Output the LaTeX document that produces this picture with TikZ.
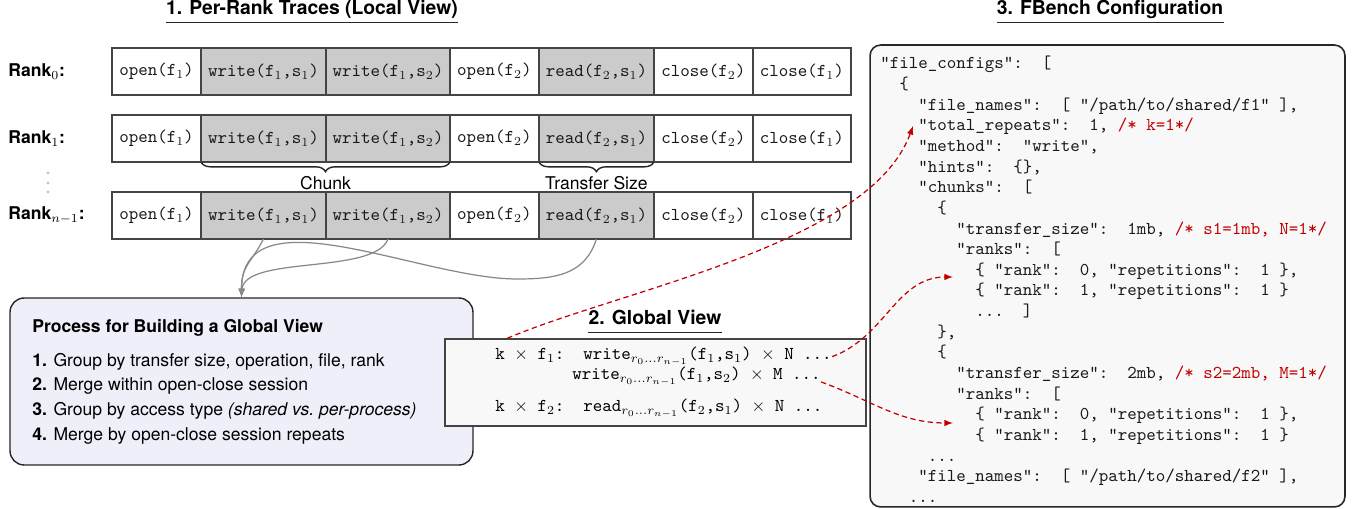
\documentclass[tikz,border=0pt]{standalone}
\usepackage{fontspec}
\setsansfont{TeX Gyre Heros}
\usetikzlibrary{positioning,decorations.pathreplacing}

\definecolor{cellgray}{HTML}{CBCBCB}
\definecolor{cellline}{HTML}{444444}
\definecolor{procfill}{HTML}{EFEFFA}
\definecolor{codefill}{HTML}{F8F8F8}
\definecolor{codered}{HTML}{C00000}
\definecolor{curvegray}{HTML}{888888}

\newcommand{\codefont}{\ttfamily\fontsize{10.3}{11.75}\selectfont\frenchspacing}
\newcommand{\redc}[1]{\textcolor{codered}{#1}}
\newcommand{\rsub}{$_{r_0\ldots r_{n-1}}$}

\begin{document}
\begin{tikzpicture}[x=0.02cm,y=-0.02cm,
  cell/.style={draw=cellline,line width=0.8pt,fill=white,minimum width=#1,
    minimum height=0.94cm,inner sep=0pt,outer sep=0pt,text=black!90,font=\codefont},
  op cell/.style={cell=#1,fill=cellgray},
  rank label/.style={anchor=west,inner sep=0pt,font=\sffamily\bfseries\fontsize{10}{12}\selectfont},
  title/.style={anchor=base,inner sep=0pt,text depth=0.25em,font=\sffamily\bfseries\fontsize{11}{13}\selectfont},
  title rule/.style={line width=0.7pt,draw=black!85},
  brace/.style={decorate,decoration={brace,mirror,amplitude=5.5pt},line width=0.8pt,draw=black!85},
  brace label/.style={below=7pt,inner sep=1pt,font=\sffamily\fontsize{10}{12}\selectfont},
  proc text/.style={anchor=base west,inner sep=0pt,font=\sffamily\fontsize{10}{12}\selectfont},
  gv text/.style={anchor=base west,inner sep=0pt,font=\codefont},
  flow/.style={draw=curvegray,line width=0.7pt,-latex},
  map/.style={draw=codered,line width=0.7pt,dash pattern=on 3pt off 2pt,-latex}]

  \useasboundingbox (0,0) rectangle (1352,509);

  % titles
  \node[title] (t1) at (312,15) {1. Per-Rank Traces (Local View)};
  \draw[title rule] ([yshift=-1.5pt]t1.south west) -- ([yshift=-1.5pt]t1.south east);
  \node[title] (t2) at (655,325) {2. Global View};
  \draw[title rule] ([yshift=-1.5pt]t2.south west) -- ([yshift=-1.5pt]t2.south east);
  \node[title] (t3) at (1110,15) {3. FBench Configuration};
  \draw[title rule] ([yshift=-1.5pt]t3.south west) -- ([yshift=-1.5pt]t3.south east);

  % rank 0
  \node[rank label] (l0) at (8,71.5) {Rank$_0$:};
  \node[cell=1.78cm] (a1) at (156.5,71.5) {open(f$_1$)};
  \node[op cell=2.5cm,right=0pt of a1] (a2) {write(f$_1$,s$_1$)};
  \node[op cell=2.48cm,right=0pt of a2] (a3) {write(f$_1$,s$_2$)};
  \node[cell=1.78cm,right=0pt of a3] (a4) {open(f$_2$)};
  \node[op cell=2.3cm,right=0pt of a4] (a5) {read(f$_2$,s$_1$)};
  \node[cell=1.98cm,right=0pt of a5] (a6) {close(f$_2$)};
  \node[cell=1.96cm,right=0pt of a6] (a7) {close(f$_1$)};

  % rank 1
  \node[rank label] (l1) at (8,138.5) {Rank$_1$:};
  \node[cell=1.78cm] (b1) at (156.5,138.5) {open(f$_1$)};
  \node[op cell=2.5cm,right=0pt of b1] (b2) {write(f$_1$,s$_1$)};
  \node[op cell=2.48cm,right=0pt of b2] (b3) {write(f$_1$,s$_2$)};
  \node[cell=1.78cm,right=0pt of b3] (b4) {open(f$_2$)};
  \node[op cell=2.3cm,right=0pt of b4] (b5) {read(f$_2$,s$_1$)};
  \node[cell=1.98cm,right=0pt of b5] (b6) {close(f$_2$)};
  \node[cell=1.96cm,right=0pt of b6] (b7) {close(f$_1$)};

  \draw[brace] (b2.south west) -- node[brace label] (chunk) {Chunk} (b3.south east);
  \draw[brace] (b5.south west) -- node[brace label] (tsize) {Transfer Size} (b5.south east);

  \fill[curvegray!50] (48,173) circle (0.9pt) (48,183) circle (0.9pt) (48,192) circle (0.9pt);

  % rank n-1
  \node[rank label] (l2) at (8,215.5) {Rank$_{n-1}$:};
  \node[cell=1.78cm] (c1) at (156.5,215.5) {open(f$_1$)};
  \node[op cell=2.5cm,right=0pt of c1] (c2) {write(f$_1$,s$_1$)};
  \node[op cell=2.48cm,right=0pt of c2] (c3) {write(f$_1$,s$_2$)};
  \node[cell=1.78cm,right=0pt of c3] (c4) {open(f$_2$)};
  \node[op cell=2.3cm,right=0pt of c4] (c5) {read(f$_2$,s$_1$)};
  \node[cell=1.98cm,right=0pt of c5] (c6) {close(f$_2$)};
  \node[cell=1.96cm,right=0pt of c6] (c7) {close(f$_1$)};

  % process box
  \node[draw=black!85,line width=0.8pt,fill=procfill,rounded corners=8pt,
    minimum width=9.26cm,minimum height=3.34cm,inner sep=0pt] (proc) at (241.5,381.5) {};
  \node[proc text,font=\sffamily\bfseries\fontsize{10}{12}\selectfont] (ptitle) at (32,333) {Process for Building a Global View};
  \node[proc text] (s1) at (32,367) {\textbf{1.} Group by transfer size, operation, file, rank};
  \node[proc text] (s2) at (32,391) {\textbf{2.} Merge within open-close session};
  \node[proc text] (s3) at (32,416) {\textbf{3.} Group by access type \textit{(shared vs.\ per-process)}};
  \node[proc text] (s4) at (32,441) {\textbf{4.} Merge by open-close session repeats};

  \coordinate (dip) at (517,279);
  \draw[flow] (c2.south) .. controls (250,265) and (241.5,265) .. (proc.north);
  \draw[flow] (c3.south) .. controls (375,275) and (244,255) .. (proc.north);
  \draw[flow] (c5.south) .. controls (585,275) and (555,279) .. (dip)
    .. controls (420,279) and (241.5,190) .. (proc.north);

  % global view
  \node[draw=cellline,line width=0.8pt,fill=codefill,minimum width=8.42cm,
    minimum height=1.74cm,inner sep=0pt] (gv) at (655.5,382.5) {};
  \node[gv text] (g1) at (495,360) {k $\times$ f$_1$:~~write\rsub(f$_1$,s$_1$) $\times$ N ...};
  \node[gv text] (g2) at (572,380) {write\rsub(f$_1$,s$_2$) $\times$ M ...};
  \node[gv text] (g3) at (495,412) {k $\times$ f$_2$:~~read\rsub(f$_2$,s$_1$) $\times$ N ...};

  % fbench config
  \node[draw=black!85,line width=0.9pt,fill=codefill,rounded corners=6pt,
    minimum width=9.5cm,minimum height=9.24cm,inner sep=0pt] (fb) at (1107.5,276) {};
  \node[anchor=north west,inner sep=0pt,align=left,text=black!90,font=\codefont] (cfg) at (880,56) {%
"file\_configs":~~[\\
~~\{\\
~~~~"file\_names":~~[ "/path/to/shared/f1" ],\\
~~~~"total\_repeats":~~1, \redc{/* k=1*/}\\
~~~~"method":~~"write",\\
~~~~"hints":~~\{\},\\
~~~~"chunks":~~[\\
~~~~~~\{\\
~~~~~~~~"transfer\_size":~~1mb, \redc{/* s1=1mb, N=1*/}\\
~~~~~~~~"ranks":~~[\\
~~~~~~~~~~\{ "rank":~~0, "repetitions":~~1 \},\\
~~~~~~~~~~\{ "rank":~~1, "repetitions":~~1 \}\\
~~~~~~~~~~...~~]\\
~~~~~~\},\\
~~~~~~\{\\
~~~~~~~~"transfer\_size":~~2mb, \redc{/* s2=2mb, M=1*/}\\
~~~~~~~~"ranks":~~[\\
~~~~~~~~~~\{ "rank":~~0, "repetitions":~~1 \},\\
~~~~~~~~~~\{ "rank":~~1, "repetitions":~~1 \}\\
~~~~~...\\
~~~~"file\_names":~~[ "/path/to/shared/f2" ],\\
~~~...};

  \coordinate (kcfg) at (913,126);
  \coordinate (s1cfg) at (953,277);
  \coordinate (s2cfg) at (953,423);
  \draw[map] ([xshift=7pt,yshift=5pt]g1.north west) .. controls (620,290) and (870,245) .. (kcfg);
  \draw[map] (g1.east) to[out=20,in=180] (s1cfg);
  \draw[map] ([yshift=-3pt]g2.east) to[out=-20,in=180] (s2cfg);
\end{tikzpicture}
\end{document}
